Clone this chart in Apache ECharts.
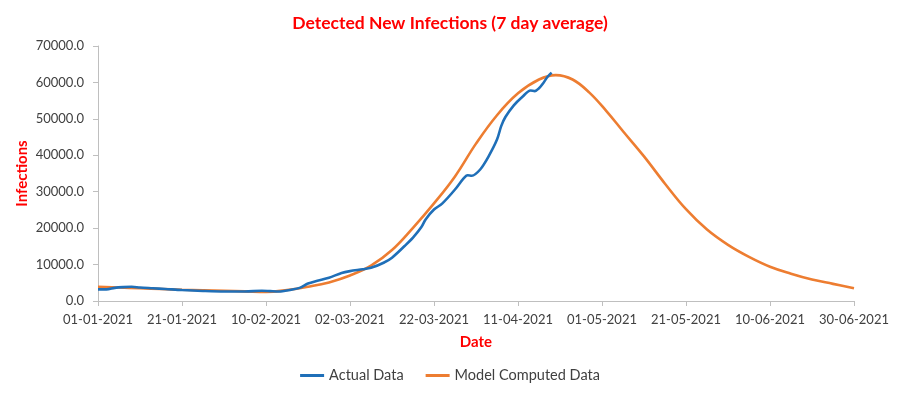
<!DOCTYPE html>
<html>
<head>
<meta charset="utf-8">
<script src="https://cdn.jsdelivr.net/npm/echarts@6/dist/echarts.min.js"></script>
<style>
  html, body { margin: 0; padding: 0; background: #fff; }
  #chart { width: 900px; height: 398px; }
</style>
</head>
<body>
<div id="chart"></div>
<script>
// day index counted from 01-01-2021, ticks every 20 days
var tickLabels = ['01-01-2021', '21-01-2021', '10-02-2021', '02-03-2021', '22-03-2021',
    '11-04-2021', '01-05-2021', '21-05-2021', '10-06-2021', '30-06-2021'];

// Actual Data : [day, infections]
var actualData = [
    [0, 3200], [2, 3200], [4, 3600], [6, 3800], [8, 3900], [10, 3700], [13, 3500],
    [16, 3300], [20, 3000], [25, 2750], [30, 2600], [35, 2600], [39, 2800], [41, 2700],
    [43, 2600], [46, 3100], [48, 3600], [50, 4800], [52, 5500], [55, 6400], [58, 7700],
    [60, 8200], [63, 8700], [65, 9100], [68, 10500], [70, 11900], [73, 15100],
    [75, 17400], [77, 20300], [78, 22400], [80, 25100], [82, 26800], [85, 30600],
    [87, 33600], [88, 34500], [89, 34400], [91, 36100], [93, 39700], [95, 44300],
    [96, 48000], [97, 50500], [99, 53700], [101, 56000], [103, 57800], [104, 57600],
    [105, 58400], [106, 59800], [107, 61500], [108, 62700]
];

// Model Computed Data : [day, infections]
var modelData = [
    [0, 3900], [5, 3700], [10, 3500], [15, 3300], [20, 3100], [25, 2950], [30, 2800],
    [35, 2650], [40, 2500], [45, 3000], [50, 3900], [55, 5100], [60, 7000], [65, 9700],
    [70, 14000], [75, 20100], [80, 26800], [85, 34200], [90, 43200], [95, 51000],
    [100, 57000], [105, 60800], [109, 62000], [113, 60800], [117, 57200], [121, 52200],
    [125, 46600], [130, 39700], [135, 32200], [140, 25200], [145, 19600], [150, 15400],
    [155, 12100], [160, 9400], [165, 7500], [170, 5900], [175, 4700], [180, 3500]
];

var textFont = 'Lato';
var myChart = echarts.init(document.getElementById('chart'));

var option = {
    backgroundColor: '#fff',
    animation: false,
    title: {
        text: 'Detected New Infections (7 day average)',
        left: 'center',
        top: 9,
        textStyle: { color: '#FF0000', fontSize: 17.5, fontWeight: 'bold', fontFamily: textFont }
    },
    grid: { left: 98, right: 46, top: 46, bottom: 97 },
    legend: {
        bottom: 10,
        left: 'center',
        icon: 'rect',
        itemWidth: 24,
        itemHeight: 3,
        itemGap: 22,
        textStyle: { color: '#404040', fontSize: 14.5, fontFamily: textFont },
        data: ['Actual Data', 'Model Computed Data']
    },
    xAxis: {
        type: 'value',
        min: 0,
        max: 180,
        interval: 20,
        name: 'Date',
        nameLocation: 'middle',
        nameGap: 34,
        nameMoveOverlap: false,
        nameTextStyle: { color: '#FF0000', fontSize: 15, fontWeight: 'bold', fontFamily: textFont },
        axisLine: { lineStyle: { color: '#BFBFBF' } },
        axisTick: { show: true, length: 5, lineStyle: { color: '#BFBFBF' } },
        splitLine: { show: false },
        axisLabel: {
            color: '#404040', fontSize: 13, fontFamily: textFont, margin: 12,
            formatter: function (v) { return tickLabels[Math.round(v / 20)]; }
        }
    },
    yAxis: {
        type: 'value',
        min: 0,
        max: 70000,
        interval: 10000,
        name: 'Infections',
        nameLocation: 'middle',
        nameGap: 68,
        nameMoveOverlap: false,
        nameRotate: 90,
        nameTextStyle: { color: '#FF0000', fontSize: 15, fontWeight: 'bold', fontFamily: textFont },
        axisLine: { show: true, lineStyle: { color: '#BFBFBF' } },
        axisTick: { show: true, length: 5, lineStyle: { color: '#BFBFBF' } },
        splitLine: { show: false },
        axisLabel: {
            color: '#404040', fontSize: 13, fontFamily: textFont, margin: 14,
            formatter: function (v) { return v.toFixed(1); }
        }
    },
    series: [
        {
            name: 'Actual Data',
            type: 'line',
            data: actualData,
            smooth: 0.3,
            symbol: 'none',
            z: 3,
            itemStyle: { color: '#1F6FB8' },
            lineStyle: { color: '#1F6FB8', width: 2.6 }
        },
        {
            name: 'Model Computed Data',
            type: 'line',
            data: modelData,
            smooth: 0.4,
            symbol: 'none',
            z: 2,
            itemStyle: { color: '#ED7D31' },
            lineStyle: { color: '#ED7D31', width: 2.6 }
        }
    ]
};

myChart.setOption(option);
</script>
</body>
</html>
